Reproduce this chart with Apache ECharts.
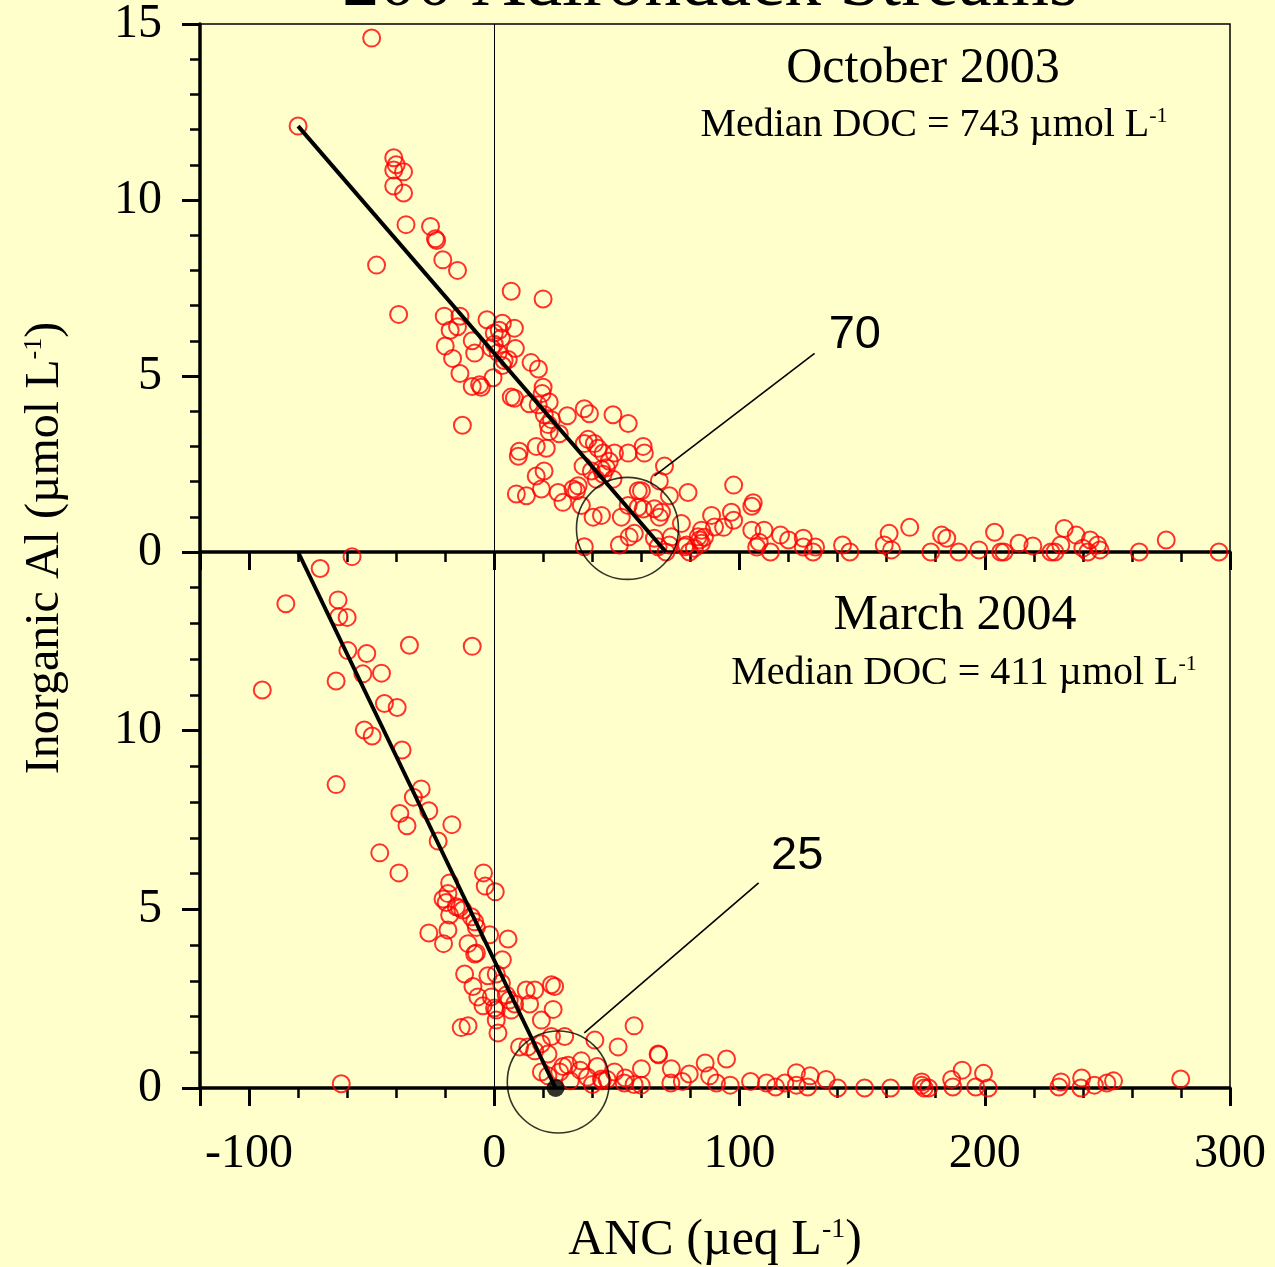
<!DOCTYPE html>
<html>
<head>
<meta charset="utf-8">
<script src="https://cdn.jsdelivr.net/npm/echarts@6/dist/echarts.min.js"></script>
<style>
  html, body { margin: 0; padding: 0; background: #ffffcc; }
  #main { width: 1275px; height: 1267px; }
</style>
</head>
<body>
<div id="main"></div>
<script>
// October 2003 samples [ANC, inorganic Al]
const octPoints = [
  [-50,14.6],[-80,12.1],
  [-41,11.2],[-40,11.0],[-41,10.85],[-37,10.8],[-41,10.4],[-37,10.2],
  [-36,9.3],[-26,9.25],[-24,8.9],[-23.5,8.85],
  [-48,8.15],[-21,8.3],[-15,8.0],
  [-39,6.75],[-20.4,6.7],[-14,6.7],[-18,6.3],[-15,6.4],[-3,6.6],
  [3.3,6.5],[2,6.3],[8.2,6.36],[0,6.22],[2.9,6.08],
  [-20,5.85],[-9,6.0],[-17,5.5],[-8,5.65],[0,5.9],[-1.2,5.8],[8.6,5.78],
  [4,5.44],[5.7,5.47],[1.6,5.66],[3.3,5.3],
  [-14,5.07],[-9,4.7],[-6,4.75],[-0.5,4.95],[-5.3,4.68],
  [15,5.38],[18,5.2],[6.9,7.41],[19.9,7.19],
  [19.9,4.68],[19.5,4.5],[6.9,4.4],[8.2,4.37],[14.3,4.21],[17.9,4.18],[22.4,4.26],
  [-13,3.6],
  [20.4,3.9],[23.3,3.76],[22,3.62],[22.4,3.42],[26.5,3.36],[29.8,3.87],
  [36.7,4.07],[38.8,3.93],[48.4,3.9],[54.6,3.65],
  [10.2,2.86],[9.8,2.72],[17.1,3.0],[21.2,2.95],
  [38.2,3.2],[40.8,3.08],[42.3,2.95],[36.7,3.08],[44.4,2.81],[49,2.81],[46.9,2.58],[45.7,2.39],
  [54.6,2.81],[60.7,3.0],[61.2,2.81],
  [36.2,2.44],[39.6,2.3],[43.7,2.35],[44.4,2.21],[41.6,2.07],[48.4,2.07],
  [17.1,2.16],[20.3,2.3],[19.2,1.79],
  [9,1.65],[13.1,1.6],[26,1.69],[28,1.41],[32.1,1.79],[34.2,1.88],[33.5,1.74],
  [35.5,1.32],[40.3,0.99],[43.7,1.04],[51.8,0.99],[54.6,1.32],
  [58.7,1.74],[60,1.74],[58.7,1.27],[60.7,1.22],
  [65.3,1.23],[68.2,1.13],[67.3,0.99],
  [69.4,2.44],[67.3,2.02],[71.4,1.6],[79,1.69],
  [36.7,0.15],[51,0.2],[55,0.43],[57.1,0.53],[65.3,0.39],[72.2,0.43],[71.4,0.2],[66.8,0.15],
  [76.3,0.81],[84.5,0.62],[88.6,1.04],[89.8,0.71],
  [70,0],[77.6,0.15],[81.6,0.11],[83.1,0.43],[84.5,0.25],
  [97.6,1.9],[105.6,1.4],[105,1.3],[96.7,1.13],[97.6,0.9],[93.5,0.7],
  [85.7,0.42],[83.7,0.34],[78.4,0.2],[79.6,0],
  [105,0.62],[110,0.62],[108,0.28],[107,0.14],[112.6,0],
  [116.7,0.48],[120,0.34],[126,0.39],[126,0.14],[131,0.14],[130,0],
  [142,0.2],[145,0],[161,0.53],[159,0.2],[162,0.06],[169.4,0.7],[178,0],
  [182.4,0.48],[184.5,0.39],[189.4,0],[197.6,0.06],[204,0.56],[206.5,0],[207.8,0],
  [214,0.25],[219.6,0.17],[227,0],[228.6,0],[232.4,0.67],[237.3,0.48],[231,0.2],
  [240,0.11],[243,0.34],[246,0.2],[242,0],[247,0.06],[263,0],[274,0.34],[295.5,0]
];

// March 2004 samples [ANC, inorganic Al]
const marPoints = [
  [-58,14.87],[-71,14.54],[-85,13.55],[-63.7,13.66],[-63.4,13.19],[-60,13.17],
  [-59.7,12.24],[-52,12.16],[-34.6,12.39],[-9,12.36],
  [-53.6,11.59],[-46,11.61],[-94.6,11.14],[-64.5,11.39],
  [-44.8,10.76],[-39.6,10.65],[-53,10.02],[-49.8,9.85],[-37.6,9.46],
  [-64.5,8.49],[-29.8,8.37],[-33,8.14],[-38.5,7.68],[-35.6,7.34],[-26.7,7.76],[-17.3,7.37],
  [-22.9,6.91],[-46.7,6.58],[-38.9,6.02],
  [-4.4,6.02],[-3.7,5.65],[0.4,5.49],
  [-18.2,5.74],[-18.9,5.44],[-20.9,5.29],[-19.6,5.19],[-14.2,5.04],[-18.2,4.84],
  [-15.5,5.07],[-12.8,4.98],
  [-9.4,4.79],[-8,4.65],[-7.3,4.49],
  [-26.7,4.34],[-18.9,4.42],[-20.7,4.04],
  [-10.7,4.04],[-8,3.75],[-1.9,4.29],[5.6,4.17],[3.3,3.59],[-7.3,3.78],
  [-12.1,3.19],[-8.7,2.84],[-2.6,3.14],[0.8,3.19],[2.9,2.94],[4.9,2.6],[8.3,2.35],
  [-6.7,2.55],[-4.6,2.3],[-1.2,2.55],[0.8,2.18],[6.1,2.46],[6.9,2.18],
  [0.1,2.24],[0.8,1.9],[1.5,1.54],
  [-13.5,1.69],[-10.7,1.74],
  [13,2.74],[16.5,2.74],[23.3,2.89],[24.6,2.84],[14.4,2.35],[19.2,1.9],[24,2.2],
  [10.3,1.15],[13.7,1.15],[16.5,1.04],[19.2,1.24],[21.9,0.95],[23.3,1.44],[28.7,1.44],
  [19.2,0.45],[21.9,0.34],[26.7,0.45],[30.1,0.64],[35.5,0.76],
  [41,1.34],[50.5,1.15],[57,1.74],[66.8,0.95],[60,0.54],[72.2,0.54],[49,0.45],[43.7,0.25],[53,0.14],[57,0.1],
  [35,0.5],[38,0.3],[42,0.6],[44,0.2],[40,0.1],[31,0.2],[28,0.6],
  [-62.4,0.12],
  [67,0.93],[94.7,0.81],[86,0.7],[79.5,0.39],[87.8,0.34],[72,0.14],[76.7,0.18],[59.9,0.08],[53.4,0.28],[46,0.24],
  [90.6,0.14],[96.2,0.08],
  [104.5,0.18],[111,0.14],[114.7,0.03],[118.5,0.14],[123.2,0.43],[128.8,0.34],[127.8,0.03],[123.2,0.08],[135.3,0.24],[140,0],
  [151,0],[161.6,0],[174.3,0.08],[175.3,0],[177.1,0],[174.3,0.17],
  [186.5,0.24],[190.8,0.5],[187,0.03],[199.5,0.41],[196.3,0.03],[201.4,0],
  [231.1,0.17],[230.2,0.03],[239.5,0.28],[239.2,0],[244.7,0.08],[249.8,0.14],[252.5,0.2],[279.9,0.25]
];

// fitted lines and annotations
const octFit = [[-80, 12.1], [70, 0]];
const marFit = [[-80, 15], [25, 0]];
const octCircle = [54.3, 0.67];
const marCircle = [26.1, 0.17];
const marDot = [25, 0];
const octLeader = [[65.3, 2.16], [130.6, 5.64]];
const marLeader = [[36.7, 1.54], [107.8, 5.74]];
const octLabel = [147, 6.15];
const marLabel = [123.5, 6.5];
const breakLabels = ['70', '25'];

const xTicks = { min: -120, max: 300 };
const yTicks = { min: 0, max: 15, interval: 5 };

const serif = 'Liberation Serif, Times New Roman, serif';
const sans = 'Liberation Sans, Arial, sans-serif';

const chart = echarts.init(document.getElementById('main'));

function xAxisFor(idx, withLabels) {
  return {
    type: 'value', gridIndex: idx, min: xTicks.min, max: xTicks.max, splitNumber: 4,
    splitLine: { show: false },
    axisLine: { show: true, onZero: false, lineStyle: { color: '#000', width: 3.5 } },
    axisTick: { show: true, length: 18, lineStyle: { color: '#000', width: 3 } },
    minorTick: { show: true, splitNumber: 5, length: 10, lineStyle: { color: '#000', width: 2.5 } },
    axisLabel: {
      show: withLabels, showMinLabel: false, margin: 42,
      fontSize: 48, fontFamily: serif, color: '#000'
    }
  };
}

function yAxisFor(idx, hideMax) {
  return {
    type: 'value', gridIndex: idx, min: yTicks.min, max: yTicks.max, interval: yTicks.interval,
    splitLine: { show: false },
    axisLine: { show: true, onZero: false, lineStyle: { color: '#000', width: 3.5 } },
    axisTick: { show: true, length: 18, lineStyle: { color: '#000', width: 3 } },
    minorTick: { show: true, splitNumber: 5, length: 10, lineStyle: { color: '#000', width: 2.5 } },
    axisLabel: {
      show: true, showMaxLabel: !hideMax, margin: 38,
      fontSize: 48, fontFamily: serif, color: '#000'
    }
  };
}

const openCircle = { color: 'rgba(0,0,0,0)', borderColor: '#ff0000', borderWidth: 2 };
const zeroLine = {
  silent: true, symbol: 'none', label: { show: false },
  lineStyle: { color: '#000', width: 1, type: 'solid' },
  data: [{ xAxis: 0 }]
};

function panelSeries(idx, points, fit, circle, leader) {
  return [
    {
      type: 'scatter', xAxisIndex: idx, yAxisIndex: idx, data: points,
      symbol: 'circle', symbolSize: 17, itemStyle: openCircle, z: 3,
      markLine: zeroLine
    },
    {
      type: 'line', xAxisIndex: idx, yAxisIndex: idx, data: fit, symbol: 'none', z: 5,
      lineStyle: { color: '#000', width: 4 }
    },
    {
      type: 'scatter', xAxisIndex: idx, yAxisIndex: idx, data: [circle], symbolSize: 102, z: 4,
      itemStyle: { color: 'rgba(0,0,0,0)', borderColor: '#000', borderWidth: 1.6 }
    },
    {
      type: 'line', xAxisIndex: idx, yAxisIndex: idx, data: leader, symbol: 'none', z: 4,
      lineStyle: { color: '#000', width: 1.6 }
    }
  ];
}

const supRich = (size) => ({
  a: { fontSize: size, fontFamily: serif, color: '#000' },
  s: { fontSize: Math.round(size * 0.55), fontFamily: serif, color: '#000', verticalAlign: 'top', padding: [0, 0, Math.round(size * 0.35), 0] }
});

const option = {
  backgroundColor: '#ffffcc',
  animation: false,
  grid: [
    { left: 200, top: 17, width: 1030, height: 535, show: true, borderColor: '#000', borderWidth: 1.5 },
    { left: 200, top: 552, width: 1030, height: 536, show: true, borderColor: '#000', borderWidth: 1.5 }
  ],
  xAxis: [
    xAxisFor(0, false),
    Object.assign(xAxisFor(1, true), {
      name: '{a|ANC (µeq L}{s|-1}{a|)}', nameLocation: 'middle', nameGap: 128,
      nameTextStyle: { rich: supRich(50) }
    })
  ],
  yAxis: [yAxisFor(0, false), yAxisFor(1, true)],
  series: [
    ...panelSeries(0, octPoints, octFit, octCircle, octLeader),
    ...panelSeries(1, marPoints, marFit, marCircle, marLeader),
    {
      type: 'scatter', xAxisIndex: 1, yAxisIndex: 1, data: [marDot], symbolSize: 18, z: 6,
      itemStyle: { color: '#000' }
    }
  ]
};

chart.setOption(option);

// break-point labels placed through the axes
const p70 = chart.convertToPixel({ gridIndex: 0 }, octLabel);
const p25 = chart.convertToPixel({ gridIndex: 1 }, marLabel);

chart.setOption({
  graphic: [
    {
      type: 'text', z: 10,
      style: { text: '200 Adirondack Streams', x: 710, y: -14, align: 'center', verticalAlign: 'middle',
        fontSize: 74, fontFamily: serif, fill: '#000' }
    },
    {
      type: 'text', style: { text: 'October 2003', x: 923, y: 69, align: 'center', verticalAlign: 'middle',
        fontSize: 50, fontFamily: serif, fill: '#000' }
    },
    {
      type: 'text', style: { text: '{a|Median DOC = 743 µmol L}{s|-1}', x: 934, y: 125, align: 'center', verticalAlign: 'middle',
        rich: supRich(40) }
    },
    {
      type: 'text', style: { text: 'March 2004', x: 955, y: 616, align: 'center', verticalAlign: 'middle',
        fontSize: 50, fontFamily: serif, fill: '#000' }
    },
    {
      type: 'text', style: { text: '{a|Median DOC = 411 µmol L}{s|-1}', x: 964, y: 673, align: 'center', verticalAlign: 'middle',
        rich: supRich(40) }
    },
    {
      type: 'text', x: 45, y: 548, rotation: Math.PI / 2,
      style: { text: '{a|Inorganic Al (µmol L}{s|-1}{a|)}', x: 0, y: 0, align: 'center', verticalAlign: 'middle',
        rich: supRich(48) }
    },
    {
      type: 'text', style: { text: breakLabels[0], x: p70[0], y: p70[1], align: 'center', verticalAlign: 'middle',
        fontSize: 47, fontFamily: sans, fill: '#000' }
    },
    {
      type: 'text', style: { text: breakLabels[1], x: p25[0], y: p25[1], align: 'center', verticalAlign: 'middle',
        fontSize: 47, fontFamily: sans, fill: '#000' }
    }
  ]
});
</script>
</body>
</html>
